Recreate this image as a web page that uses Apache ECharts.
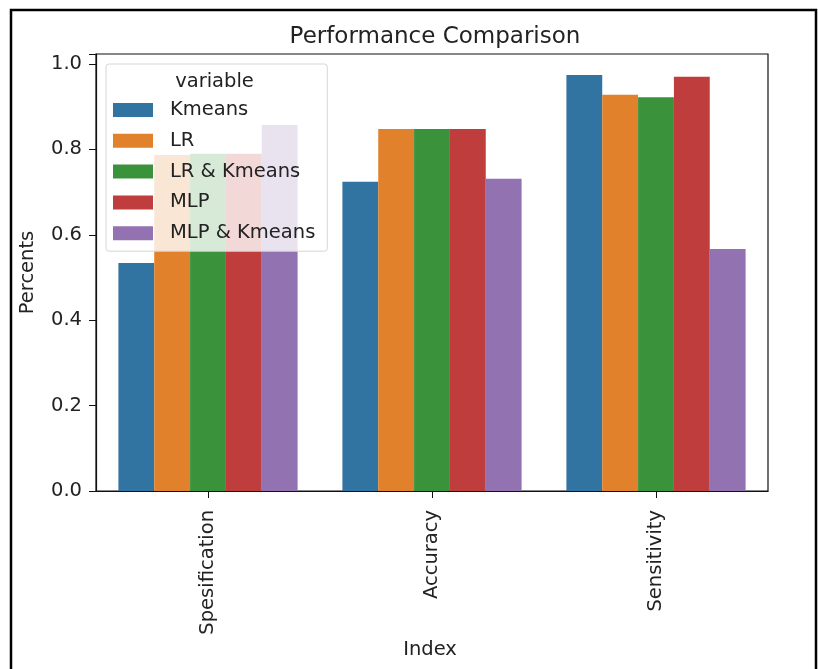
<!DOCTYPE html>
<html>
<head>
<meta charset="utf-8">
<script src="https://cdn.jsdelivr.net/npm/echarts@6/dist/echarts.min.js"></script>
<style>html,body{margin:0;padding:0;background:#fff}#c{width:818px;height:669px}</style>
</head>
<body>
<div id="c"></div>
<script>
const categories = ['Spesification', 'Accuracy', 'Sensitivity'];
const seriesNames = ['Kmeans', 'LR', 'LR & Kmeans', 'MLP', 'MLP & Kmeans'];
const kmeans = [0.534, 0.724, 0.974];
const lr = [0.787, 0.848, 0.928];
const lrKmeans = [0.790, 0.848, 0.922];
const mlp = [0.790, 0.848, 0.970];
const mlpKmeans = [0.857, 0.731, 0.567];
const yTicks = [0.0, 0.2, 0.4, 0.6, 0.8, 1.0];

const values = [kmeans, lr, lrKmeans, mlp, mlpKmeans];
const colors = ['#3274a1', '#e1812c', '#3a923a', '#c03d3e', '#9372b2'];
const FONT = 'DejaVu Sans';
const FS = 19.5;

const chart = echarts.init(document.getElementById('c'), null, {renderer: 'canvas'});
chart.setOption({
  animation: false,
  backgroundColor: '#fff',
  textStyle: {fontFamily: FONT},
  title: {
    text: 'Performance Comparison',
    left: 430, top: 21, textAlign: 'center',
    textStyle: {fontFamily: FONT, fontSize: 23, fontWeight: 'normal', color: '#222'}
  },
  grid: {left: 96, right: 50, top: 54, bottom: 178, show: true, borderColor: '#111', borderWidth: 1.2, backgroundColor: 'transparent'},
  legend: {
    orient: 'vertical', left: 106, top: 64,
    data: seriesNames,
    icon: 'rect', itemWidth: 40, itemHeight: 14, itemGap: 10.8,
    padding: [36, 12, 8, 7],
    backgroundColor: 'rgba(255,255,255,0.8)',
    borderColor: '#d6d6d6', borderWidth: 1, borderRadius: 3,
    textStyle: {fontFamily: FONT, fontSize: FS, color: '#222', padding: [0, 0, 0, 12]},
    z: 10
  },
  graphic: [
    {type: 'text', z: 100, x: 214.5, y: 72, style: {text: 'variable', textAlign: 'center', font: FS + 'px "DejaVu Sans"', fill: '#222'}},
    {type: 'text', z: 100, x: 430, y: 640, style: {text: 'Index', textAlign: 'center', font: FS + 'px "DejaVu Sans"', fill: '#222'}},
    {type: 'rect', z: 100, shape: {x: 11, y: 10, width: 805, height: 700}, style: {fill: 'none', stroke: '#000', lineWidth: 2.5}}
  ],
  xAxis: {
    type: 'category', data: categories,
    axisLine: {show: true, lineStyle: {color: '#111', width: 1.2}},
    axisTick: {show: true, alignWithLabel: true, length: 7, lineStyle: {color: '#111'}},
    axisLabel: {rotate: 90, margin: 19, fontFamily: FONT, fontSize: FS, color: '#222', interval: 0},
    splitLine: {show: false}
  },
  yAxis: {
    type: 'value', min: 0, max: 1.0234, interval: 0.2,
    name: 'Percents', nameLocation: 'middle', nameGap: 58, nameRotate: 90,
    nameTextStyle: {fontFamily: FONT, fontSize: FS, color: '#222'},
    axisLine: {show: true, lineStyle: {color: '#111', width: 1.2}},
    axisTick: {show: true, length: 7, lineStyle: {color: '#111'}},
    axisLabel: {margin: 14, fontFamily: FONT, fontSize: FS, color: '#222',
      formatter: v => { const t = yTicks.find(x => Math.abs(x - v) < 1e-6); return t === undefined ? '' : t.toFixed(1); }},
    splitLine: {show: false}
  },
  series: seriesNames.map((n, i) => ({
    name: n, type: 'bar', data: values[i],
    barGap: '0%', barCategoryGap: '20%',
    itemStyle: {color: colors[i]},
    z: 2
  }))
});
</script>
</body>
</html>
